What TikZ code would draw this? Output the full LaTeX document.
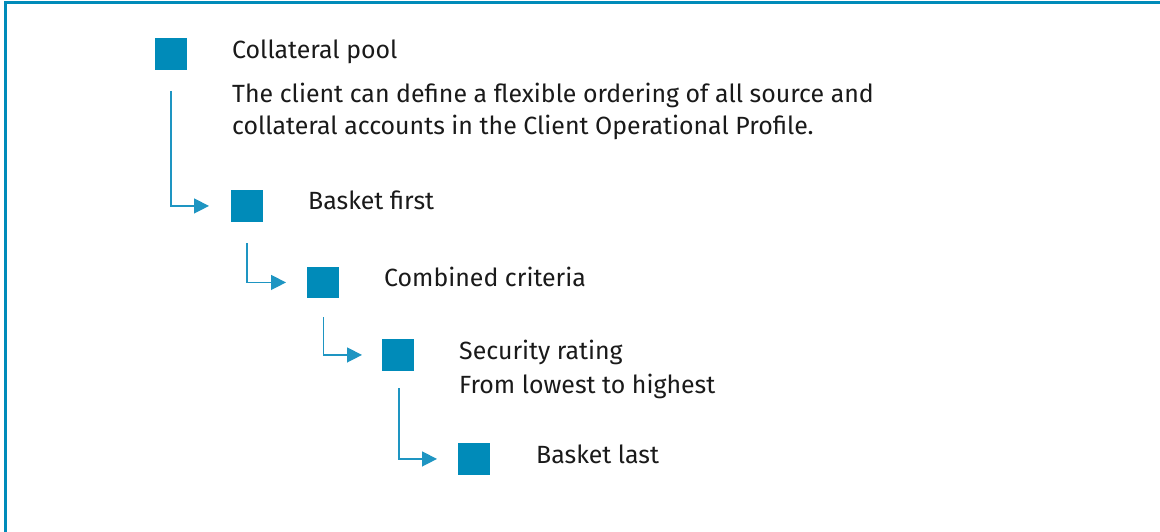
\documentclass[tikz,border=0pt]{standalone}
\usepackage{fontspec}
\setmainfont{Fira Sans}
\usetikzlibrary{arrows.meta}
\definecolor{brand}{HTML}{008BB9}
\definecolor{connc}{HTML}{1E95C2}
\definecolor{txt}{HTML}{1A1A1A}
\tikzset{
  sq/.style={fill=brand, draw=none, minimum size=31.5pt, inner sep=0pt, anchor=north west},
  lbl/.style={anchor=base west, inner sep=0pt, text=txt, font=\fontsize{24.9}{32}\selectfont},
  conn/.style={draw=connc, line width=1.4pt, -{Triangle[length=15pt,width=15pt]}},
}
\begin{document}
\begin{tikzpicture}[x=1pt,y=-1pt]
\useasboundingbox (0,0) rectangle (1160,532);
\fill[white] (0,0) rectangle (1160,532);
\draw[brand, line width=3pt] (5.5,532) -- (5.5,2.5) -- (1160,2.5);
% squares
\node[sq] (s1) at (155,38) {};
\node[sq] (s2) at (231,190) {};
\node[sq] (s3) at (307,266.5) {};
\node[sq] (s4) at (382,339) {};
\node[sq] (s5) at (458,443) {};
% labels
\node[lbl] (t1) at (232,58.5) {Collateral pool};
\node[lbl] (d1) at (232,103) {The client can define a flexible ordering of all source and};
\node[lbl] (d2) at (232,135) {collateral accounts in the Client Operational Profile.};
\node[lbl] (t2) at (308,209.5) {Basket first};
\node[lbl] (t3) at (384,286.5) {Combined criteria};
\node[lbl] (t4) at (459,359) {Security rating};
\node[lbl] (t4b) at (459,393) {From lowest to highest};
\node[lbl] (t5) at (536,463) {Basket last};
% connectors
\coordinate (c1) at (171,91);
\coordinate (c2) at (247,243);
\coordinate (c3) at (323.5,317);
\coordinate (c4) at (399,388);
\draw[conn] (c1) |- ([xshift=-22pt]s2.west);
\draw[conn] (c2) |- ([xshift=-21pt]s3.west);
\draw[conn] (c3) |- ([xshift=-20pt]s4.west);
\draw[conn] (c4) |- ([xshift=-21pt]s5.west);
\end{tikzpicture}
\end{document}
